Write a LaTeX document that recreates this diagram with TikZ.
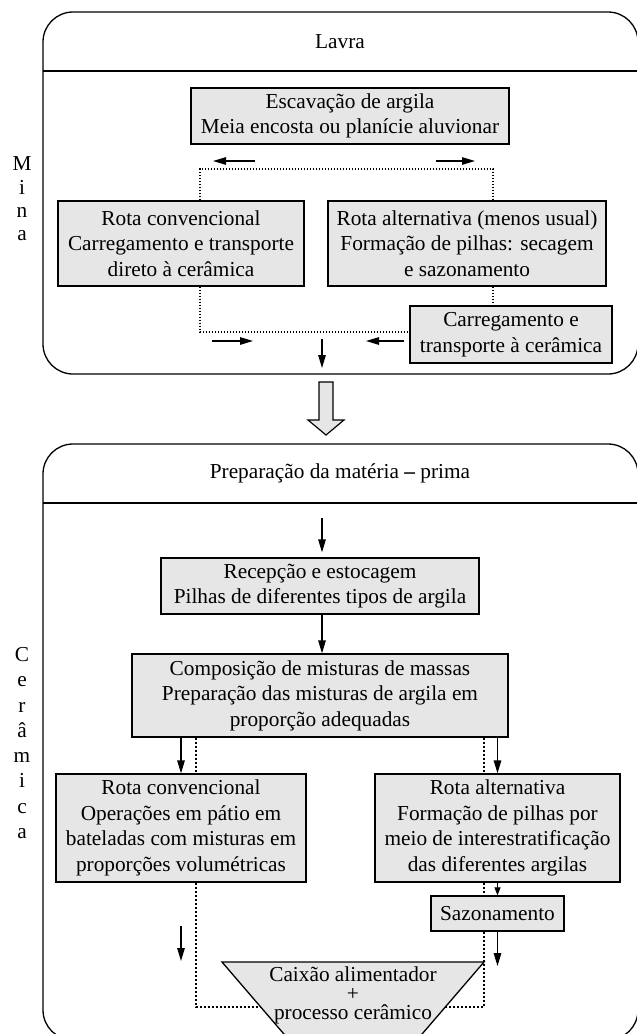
\documentclass[tikz,border=0pt]{standalone}
\usepackage{fontspec}
\setmainfont{Liberation Serif}
\usetikzlibrary{arrows.meta,positioning,calc}
\tikzset{>={Triangle[length=13pt,width=7.5pt]}}

\begin{document}
\begin{tikzpicture}[x=1pt,y=-1pt,
  caixa/.style={draw, fill=cinza, line width=1.3pt, align=center, inner sep=0pt,
    font=\fontsize{21.3}{25.5}\selectfont},
  titulo/.style={font=\fontsize{21.3}{25.5}\selectfont},
  moldura/.style={line width=1.3pt, rounded corners=30pt},
  seta/.style={->, line width=1.3pt},
  pontos/.style={line width=1.3pt, dash pattern=on 1.5pt off 1.5pt},
  pontosb/.style={line width=2pt, dash pattern=on 2pt off 2pt}]
\definecolor{cinza}{HTML}{E6E6E7}
\useasboundingbox (0,0) rectangle (637,1034);
\clip (0,0) rectangle (637,1034);

% Molduras (Mina e Ceramica)
\draw[moldura] (43,12) rectangle (638,374);
\draw[line width=1.3pt] (43,71) -- (638,71);
\draw[moldura] (43,444) rectangle (638,1040);
\draw[line width=1.3pt] (43,503) -- (638,503);

\node[titulo] (lavra) at (340,42) {Lavra};
\node[titulo] (prep) at (340,473) {Preparação da matéria \textbf{--} prima};
\node[align=center, font=\fontsize{21.3}{23.3}\selectfont] (mina) at (22,199) {M\\i\\n\\a};
\node[align=center, font=\fontsize{21.3}{25.3}\selectfont] (ceram) at (22,743) {C\\e\\r\\â\\m\\i\\c\\a};

% Lavra
\node[caixa, minimum width=318pt, minimum height=56pt] (escav) at (350,116)
  {Escavação de argila\\Meia encosta ou planície aluvionar};
\node[caixa, minimum width=246pt, minimum height=85pt] (rconv) at (181,243.5)
  {Rota convencional\\Carregamento e transporte\\direto à cerâmica};
\node[caixa, minimum width=278pt, minimum height=85pt] (ralt) at (467,243.5)
  {Rota alternativa (menos usual)\\Formação de pilhas: secagem\\e sazonamento};
\node[caixa, minimum width=202pt, minimum height=57pt] (carreg) at (511,334.5)
  {Carregamento e\\transporte à cerâmica};

\coordinate (pa) at (200,169);
\coordinate (pb) at (493,169);
\coordinate (pc) at (200,332);
\draw[pontos] (rconv.north -| pa) -- (pa) -- (pb) -- (ralt.north -| pb);
\draw[pontos] (ralt.south -| pb) -- (carreg.north -| pb);
\draw[pontos] (rconv.south -| pc) -- (pc) -- (carreg.west |- pc);

% setas soltas
\coordinate (t1) at (255,161); \coordinate (t2) at (213,161);
\coordinate (t3) at (436,161); \coordinate (t4) at (475,161);
\coordinate (t5) at (212,341); \coordinate (t6) at (253,341);
\coordinate (t7) at (404,341); \coordinate (t8) at (366,341);
\coordinate (t9) at (322,339); \coordinate (t10) at (322,368);
\coordinate (e1) at (181,926); \coordinate (e2) at (181,961);
\foreach \a/\b in {t1/t2, t3/t4, t5/t6, t7/t8, t9/t10, e1/e2}
  \draw[seta] (\a) -- (\b);

% Seta larga
\draw[line width=1.2pt, fill=cinza] (319,382) -- (333,382) -- (333,420) -- (344,420)
  -- (326,435) -- (308,420) -- (319,420) -- cycle;

% Ceramica
\node[caixa, minimum width=318pt, minimum height=56pt] (recep) at (320,586)
  {Recepção e estocagem\\Pilhas de diferentes tipos de argila};
\node[caixa, minimum width=376pt, minimum height=83pt] (compos) at (320,695.5)
  {Composição de misturas de massas\\Preparação das misturas de argila em\\proporção adequadas};
\node[caixa, minimum width=250pt, minimum height=108pt] (rconvb) at (181,828)
  {Rota convencional\\Operações em pátio em\\bateladas com misturas em\\proporções volumétricas};
\node[caixa, minimum width=245pt, minimum height=108pt] (raltb) at (497.5,828)
  {Rota alternativa\\Formação de pilhas por\\meio de interestratificação\\das diferentes argilas};
\node[caixa, minimum width=133pt, minimum height=35pt] (sazon) at (497.5,913.5)
  {Sazonamento};

% Caixao alimentador
\draw[line width=1.3pt, fill=cinza] (222,962) -- (484,962) -- (398,1062) -- (308,1062) -- cycle;
\node[align=center, font=\fontsize{21.3}{19}\selectfont] (caixao) at (353,995)
  {Caixão alimentador\\+\\processo cerâmico};

\coordinate (r0) at (322,518);
\draw[seta, shorten >=5pt] (r0) -- (recep.north -| r0);
\draw[seta] (recep.south -| r0) -- (compos.north -| r0);
\draw[seta] (compos.south -| rconvb) -- (rconvb.north);
\draw[seta] (compos.south -| raltb) -- (raltb.north);
\draw[->, line width=1.2pt, >={Triangle[length=8pt,width=6pt]}] (raltb.south) -- (sazon.north);
\coordinate (s1) at (497.5,966);
\draw[seta] (sazon.south) -- (s1);

\coordinate (pe) at (196,1007);
\coordinate (pd) at (484,1007);
\coordinate (tl) at (261,1007);
\coordinate (tr) at (445,1007);
\draw[pontosb] (compos.south -| pe) -- (rconvb.north -| pe);
\draw[pontosb] (rconvb.south -| pe) -- (pe) -- (tl);
\draw[pontosb] (compos.south -| pd) -- (raltb.north -| pd);
\draw[pontosb] (raltb.south -| pd) -- (sazon.north -| pd);
\draw[pontosb] (sazon.south -| pd) -- (pd) -- (tr);

\end{tikzpicture}
\end{document}
